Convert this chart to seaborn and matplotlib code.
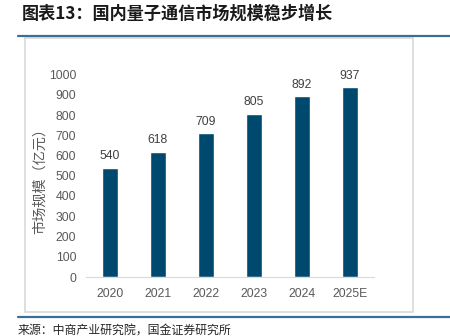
import matplotlib
matplotlib.use("Agg")
import matplotlib.pyplot as plt
import seaborn as sns
import pandas as pd
from matplotlib.lines import Line2D
from matplotlib.patches import Rectangle

years = ["2020", "2021", "2022", "2023", "2024", "2025E"]
values = [540, 618, 709, 805, 892, 937]
yticks = [0, 100, 200, 300, 400, 500, 600, 700, 800, 900, 1000]
title = "图表13：国内量子通信市场规模稳步增长"
ylabel = "市场规模（亿元）"
source = "来源：中商产业研究院，国金证券研究所"

sns.set_theme(style="white")
plt.rcParams['font.family'] = ['Liberation Sans', 'Noto Sans CJK SC', 'DejaVu Sans']

W, H = 450, 336
fig = plt.figure(figsize=(W / 100, H / 100), dpi=100)

def fx(x):
    return x / W

def fy(y):
    return 1 - y / H

ax = fig.add_axes([fx(86), fy(277), fx(374) - fx(86), fy(74.5) - fy(277)])

df = pd.DataFrame({"year": years, "value": values})
sns.barplot(data=df, x="year", y="value", ax=ax, color="#00496E",
            width=0.34, saturation=1)

ax.set_ylim(0, 1000)
ax.set_xlim(-0.5, len(years) - 0.5)
ax.set_yticks(yticks)
ax.set_yticklabels([str(v) for v in yticks], fontsize=8.8, color="#595959")
ax.set_xticks(range(len(years)))
ax.set_xticklabels(years, fontsize=8.8, color="#595959")
ax.tick_params(axis='y', length=0, pad=7)
ax.tick_params(axis='x', length=0, pad=8)
ax.set_xticks([i + 0.5 for i in range(-1, len(years))], minor=True)
ax.tick_params(axis='x', which='minor', length=3, direction='in', color="#D9D9D9", width=0.8)
ax.set_xlabel("")
ax.set_ylabel("")

for s in ["top", "right", "left"]:
    ax.spines[s].set_visible(False)
ax.spines["bottom"].set_color("#D9D9D9")
ax.spines["bottom"].set_linewidth(0.8)

for c in ax.containers:
    ax.bar_label(c, labels=[str(v) for v in values], padding=4, fontsize=8.8, color="#404040")

fig.text(fx(40), fy(177), ylabel, rotation=90, fontsize=10.2, color="#595959",
         family=['Noto Sans CJK SC'], ha='center', va='center')

# frame box and decorative rules
fig.add_artist(Rectangle((fx(25), fy(312)), fx(413) - fx(25), fy(38) - fy(312),
                         transform=fig.transFigure, fill=False, edgecolor="#D9D9D9", linewidth=1.2))
fig.add_artist(Line2D([fx(18), fx(450)], [fy(35.5), fy(35.5)], transform=fig.transFigure,
                      color="#3A6F96", linewidth=1.6))
fig.add_artist(Line2D([fx(18), fx(450)], [fy(317), fy(317)], transform=fig.transFigure,
                      color="#3A6F96", linewidth=1.6))

fig.text(fx(22), fy(14), title, fontsize=12.3, fontweight='bold', color="#1A1A1A",
         family=['Noto Sans CJK SC'], va='center', ha='left')
fig.text(fx(18), fy(330), source, fontsize=8.6, color="#262626",
         family=['Noto Sans CJK SC'], va='center', ha='left')

fig.savefig("out.png", dpi=100)
